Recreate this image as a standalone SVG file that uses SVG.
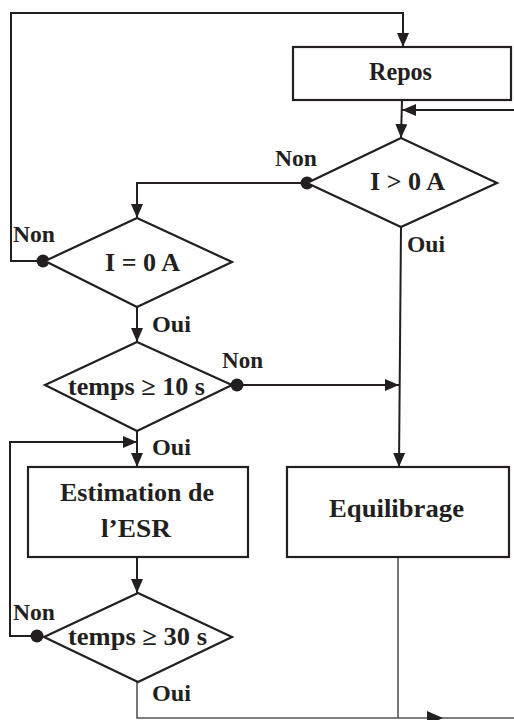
<svg xmlns="http://www.w3.org/2000/svg" width="514" height="720" viewBox="0 0 514 720">
  <style>
    .shape { fill: #ffffff; stroke: #231f20; stroke-width: 2.2; }
    .line { fill: none; stroke: #231f20; stroke-width: 2; }
    .thin { fill: none; stroke: #555555; stroke-width: 1.6; }
    .dot { fill: #231f20; }
    .txt { font-family: "Liberation Serif", "Times New Roman", serif; font-weight: bold; font-size: 25px; fill: #231f20; }
    .lbl { font-family: "Liberation Serif", "Times New Roman", serif; font-weight: bold; font-size: 23px; fill: #231f20; }
  </style>
  <defs>
    <marker id="arrow" viewBox="0 0 14 12" refX="14" refY="6" markerWidth="14" markerHeight="12" markerUnits="userSpaceOnUse" orient="auto">
      <path d="M0,0 L14,6 L0,12 z" fill="#231f20"/>
    </marker>
  </defs>
  <rect width="514" height="720" fill="#ffffff"/>

  <g id="connectors">
    <polyline class="line" points="43,261 11,261 11,13 403,13 403,47" marker-end="url(#arrow)"/>
    <line class="line" x1="402" y1="100" x2="401" y2="138" marker-end="url(#arrow)"/>
    <line class="line" x1="514" y1="110" x2="402" y2="110" marker-end="url(#arrow)"/>
    <polyline class="line" points="307,183 137,183 137,218" marker-end="url(#arrow)"/>
    <line class="line" x1="401" y1="227" x2="399" y2="467" marker-end="url(#arrow)"/>
    <line class="line" x1="237" y1="385" x2="399" y2="385" marker-end="url(#arrow)"/>
    <line class="line" x1="137" y1="307" x2="137" y2="342" marker-end="url(#arrow)"/>
    <line class="line" x1="137" y1="431" x2="137" y2="467" marker-end="url(#arrow)"/>
    <polyline class="line" points="37,636 10,636 10,442 137,442" marker-end="url(#arrow)"/>
    <line class="line" x1="137" y1="557" x2="137" y2="593" marker-end="url(#arrow)"/>
    <polyline class="thin" points="137,682 137,718 514,718"/>
    <polygon points="427,711 443,718 427,725" fill="#231f20"/>
    <line class="thin" x1="398" y1="557" x2="398" y2="718"/>
    <circle class="dot" cx="43" cy="261" r="6.5"/>
    <circle class="dot" cx="307" cy="183" r="6.5"/>
    <circle class="dot" cx="237" cy="385" r="6.5"/>
    <circle class="dot" cx="37" cy="636" r="6.5"/>
    <text class="lbl" x="275" y="166" textLength="42" lengthAdjust="spacingAndGlyphs">Non</text>
    <text class="lbl" x="407" y="252" textLength="38" lengthAdjust="spacingAndGlyphs">Oui</text>
    <text class="lbl" x="13" y="242" textLength="42" lengthAdjust="spacingAndGlyphs">Non</text>
    <text class="lbl" x="152" y="332" textLength="39" lengthAdjust="spacingAndGlyphs">Oui</text>
    <text class="lbl" x="222" y="368" textLength="41" lengthAdjust="spacingAndGlyphs">Non</text>
    <text class="lbl" x="152" y="455" textLength="39" lengthAdjust="spacingAndGlyphs">Oui</text>
    <text class="lbl" x="13" y="620" textLength="42" lengthAdjust="spacingAndGlyphs">Non</text>
    <text class="lbl" x="152" y="701" textLength="39" lengthAdjust="spacingAndGlyphs">Oui</text>
  </g>

  <g id="repos">
    <rect class="shape" x="293" y="47" width="218" height="53"/>
    <text class="txt" x="369" y="80" textLength="63" lengthAdjust="spacingAndGlyphs">Repos</text>
  </g>

  <g id="i-sup-0">
    <polygon class="shape" points="401,138 497,183 401,227 307,183"/>
    <text class="txt" x="370" y="190" textLength="75" lengthAdjust="spacingAndGlyphs">I &gt; 0 A</text>
  </g>

  <g id="i-eq-0">
    <polygon class="shape" points="137,218 232,262 137,307 45,261"/>
    <text class="txt" x="105" y="271" textLength="75" lengthAdjust="spacingAndGlyphs">I = 0 A</text>
  </g>

  <g id="temps-10">
    <polygon class="shape" points="137,342 232,385 137,431 45,385"/>
    <text class="txt" x="68" y="395" textLength="137" lengthAdjust="spacingAndGlyphs">temps ≥ 10 s</text>
  </g>

  <g id="estimation">
    <rect class="shape" x="28" y="467" width="220" height="90"/>
    <text class="txt" x="60" y="501" textLength="154" lengthAdjust="spacingAndGlyphs">Estimation de</text>
    <text class="txt" x="101" y="537" textLength="70" lengthAdjust="spacingAndGlyphs">l’ESR</text>
  </g>

  <g id="temps-30">
    <polygon class="shape" points="138,593 232,637 138,682 44,637"/>
    <text class="txt" x="68" y="645" textLength="139" lengthAdjust="spacingAndGlyphs">temps ≥ 30 s</text>
  </g>

  <g id="equilibrage">
    <rect class="shape" x="287" y="467" width="222" height="90"/>
    <text class="txt" x="329" y="517" textLength="135" lengthAdjust="spacingAndGlyphs">Equilibrage</text>
  </g>
</svg>
